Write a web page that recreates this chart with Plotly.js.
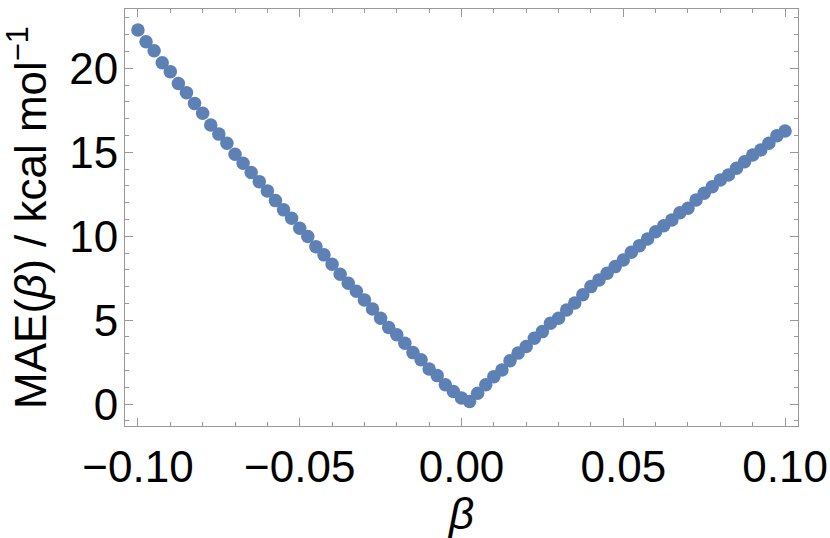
<!DOCTYPE html>
<html>
<head>
<meta charset="utf-8">
<script src="https://cdn.plot.ly/plotly-3.0.1.min.js"></script>
<style>html,body{margin:0;padding:0;background:#fff;}#chart{width:830px;height:538px;}</style>
</head>
<body>
<div id="chart"></div>
<script>
var beta = [-0.1000,-0.0975,-0.0950,-0.0925,-0.0900,-0.0875,-0.0850,-0.0825,-0.0800,-0.0775,
  -0.0750,-0.0725,-0.0700,-0.0675,-0.0650,-0.0625,-0.0600,-0.0575,-0.0550,-0.0525,
  -0.0500,-0.0475,-0.0450,-0.0425,-0.0400,-0.0375,-0.0350,-0.0325,-0.0300,-0.0275,
  -0.0250,-0.0225,-0.0200,-0.0175,-0.0150,-0.0125,-0.0100,-0.0075,-0.0050,-0.0025,
  0.0000,0.0025,0.0050,0.0075,0.0100,0.0125,0.0150,0.0175,0.0200,0.0225,
  0.0250,0.0275,0.0300,0.0325,0.0350,0.0375,0.0400,0.0425,0.0450,0.0475,
  0.0500,0.0525,0.0550,0.0575,0.0600,0.0625,0.0650,0.0675,0.0700,0.0725,
  0.0750,0.0775,0.0800,0.0825,0.0850,0.0875,0.0900,0.0925,0.0950,0.0975,0.1000];
var mae = [22.28,21.58,21.05,20.33,19.80,19.10,18.55,17.91,17.32,16.62,
  16.08,15.53,14.88,14.35,13.79,13.25,12.70,12.12,11.57,11.07,
  10.48,9.98,9.38,8.89,8.33,7.74,7.20,6.72,6.21,5.67,
  5.12,4.56,4.13,3.63,3.07,2.64,2.10,1.70,1.15,0.75,
  0.37,0.16,0.65,1.15,1.64,2.04,2.58,3.04,3.43,3.93,
  4.32,4.82,5.12,5.61,6.03,6.51,7.00,7.40,7.80,8.19,
  8.59,9.05,9.44,9.84,10.27,10.63,10.97,11.40,11.67,12.16,
  12.56,12.95,13.35,13.65,14.05,14.44,14.84,15.14,15.54,15.99,16.27];
var xTickVals = [-0.10,-0.05,0.00,0.05,0.10];
var yTickVals = [0,5,10,15,20];
var xTitle = '<i>β</i>';
var yTitle = 'MAE(<i>β</i>) / kcal mol<sup>−1</sup>';

var font = {family:'Liberation Sans, Arial, Helvetica, sans-serif', size:44, color:'#000'};
var frameColor = '#999999';

var trace = {
  x: beta, y: mae, type:'scatter', mode:'markers',
  marker:{size:13.5, color:'#5E81B5', line:{width:0}},
  hoverinfo:'skip'
};

var layout = {
  width:830, height:538,
  margin:{l:124.5, r:31.5, t:9, b:111.5, pad:0},
  paper_bgcolor:'#fff', plot_bgcolor:'#fff',
  showlegend:false,
  font: font,
  xaxis:{
    range:[-0.104,0.104], autorange:false,
    tickmode:'array', tickvals:xTickVals, tickformat:'.2f',
    ticks:'inside', ticklen:8, tickwidth:1, tickcolor:frameColor,
    minor:{dtick:0.01, tick0:0, ticks:'inside', ticklen:4, tickwidth:1, tickcolor:frameColor, showgrid:false},
    showline:true, linecolor:frameColor, linewidth:1, mirror:'ticks',
    showgrid:false, zeroline:false,
    tickfont:font, ticklabelstandoff:2,
    title:{text:xTitle, font:font, standoff:2}
  },
  yaxis:{
    range:[-1.3,23.53], autorange:false,
    tickmode:'array', tickvals:yTickVals,
    ticks:'inside', ticklen:8, tickwidth:1, tickcolor:frameColor,
    minor:{dtick:1, tick0:0, ticks:'inside', ticklen:4, tickwidth:1, tickcolor:frameColor, showgrid:false},
    showline:true, linecolor:frameColor, linewidth:1, mirror:'ticks',
    showgrid:false, zeroline:false,
    tickfont:font, ticklabelstandoff:-3,
    title:{text:yTitle, font:font, standoff:8}
  }
};

Plotly.newPlot('chart',[trace],layout,{displayModeBar:false, staticPlot:true});
</script>
</body>
</html>
